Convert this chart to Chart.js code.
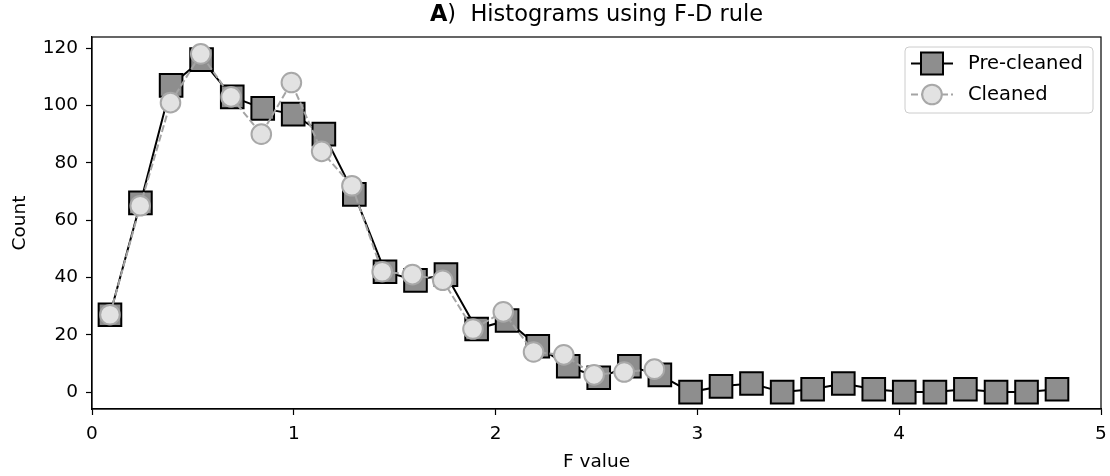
<!DOCTYPE html>
<html><head><meta charset="utf-8">
<script src="https://cdn.jsdelivr.net/npm/chart.js@4.4.1/dist/chart.umd.min.js"></script>
<style>html,body{margin:0;padding:0;background:#fff}#wrap{width:1110px;height:476px}</style>
</head><body><div id="wrap"><canvas id="c" width="1110" height="476"></canvas></div>
<script>
// ---- data ----
const seriesNames = ['Pre-cleaned', 'Cleaned'];
const preX = [0.089, 0.240, 0.392, 0.543, 0.695, 0.846, 0.997, 1.149, 1.300, 1.452, 1.603, 1.754, 1.906, 2.057, 2.209, 2.360,
              2.511, 2.663, 2.814, 2.966, 3.117, 3.268, 3.420, 3.571, 3.723, 3.874, 4.025, 4.177, 4.328, 4.480, 4.631, 4.782];
const preY = [27, 66, 107, 116, 103, 99, 97, 90, 69, 42, 39, 41, 22, 25, 16, 9,
              5, 9, 6, 0, 2, 3, 0, 1, 3, 1, 0, 0, 1, 0, 0, 1];
const cleanX = [0.089, 0.239, 0.389, 0.539, 0.689, 0.839, 0.988, 1.138, 1.288, 1.438, 1.588, 1.738, 1.888, 2.038, 2.188,
                2.338, 2.488, 2.637, 2.787];
const cleanY = [27, 65, 101, 118, 103, 90, 108, 84, 72, 42, 41, 39, 22, 28, 14, 13, 6, 7, 8];
const xTicks = [0, 1, 2, 3, 4, 5];
const yTicks = [0, 20, 40, 60, 80, 100, 120];
const titleBold = 'A';
const titleRest = ')  Histograms using F-D rule';
const xTitle = 'F value';
const yTitle = 'Count';

const FONT = "'DejaVu Sans', 'Liberation Sans', sans-serif";
const PRE = {line: '#000000', fill: '#8e8e8e', edge: '#000000'};
const CLN = {line: '#a4a4a4', fill: '#e2e2e2', edge: '#a8a8a8'};

function drawSquare(ctx, x, y, side) {
  ctx.save();
  ctx.fillStyle = PRE.fill; ctx.strokeStyle = PRE.edge; ctx.lineWidth = 2;
  ctx.beginPath(); ctx.rect(x - side / 2, y - side / 2, side, side); ctx.fill(); ctx.stroke();
  ctx.restore();
}
function drawCircle(ctx, x, y, r) {
  ctx.save();
  ctx.fillStyle = CLN.fill; ctx.strokeStyle = CLN.edge; ctx.lineWidth = 2;
  ctx.beginPath(); ctx.arc(x, y, r, 0, Math.PI * 2); ctx.fill(); ctx.stroke();
  ctx.restore();
}

const decor = {
  id: 'decor',
  afterDraw(chart) {
    const ctx = chart.ctx, a = chart.chartArea;
    // frame
    ctx.save();
    ctx.strokeStyle = '#000'; ctx.lineWidth = 1.2;
    ctx.strokeRect(a.left, a.top, a.right - a.left, a.bottom - a.top);
    ctx.restore();
    // title
    ctx.save();
    ctx.fillStyle = '#000'; ctx.textBaseline = 'middle';
    const bFont = 'bold 22.5px ' + FONT, nFont = '22.5px ' + FONT;
    ctx.font = bFont; const wb = ctx.measureText(titleBold).width;
    ctx.font = nFont; const wn = ctx.measureText(titleRest).width;
    const cx = (a.left + a.right) / 2;
    let x0 = cx - (wb + wn) / 2;
    ctx.textAlign = 'left';
    ctx.font = bFont; ctx.fillText(titleBold, x0, 15);
    ctx.font = nFont; ctx.fillText(titleRest, x0 + wb, 15);
    ctx.restore();
    // legend
    ctx.save();
    const bx = 905, by = 47, bw = 188, bh = 66, rr = 4;
    ctx.fillStyle = 'rgba(255,255,255,0.8)'; ctx.strokeStyle = '#cccccc'; ctx.lineWidth = 1;
    ctx.beginPath();
    ctx.moveTo(bx + rr, by); ctx.lineTo(bx + bw - rr, by); ctx.arcTo(bx + bw, by, bx + bw, by + rr, rr);
    ctx.lineTo(bx + bw, by + bh - rr); ctx.arcTo(bx + bw, by + bh, bx + bw - rr, by + bh, rr);
    ctx.lineTo(bx + rr, by + bh); ctx.arcTo(bx, by + bh, bx, by + bh - rr, rr);
    ctx.lineTo(bx, by + rr); ctx.arcTo(bx, by, bx + rr, by, rr); ctx.closePath();
    ctx.fill(); ctx.stroke();
    const rows = [63.5, 94.5];
    // row 1
    ctx.strokeStyle = PRE.line; ctx.lineWidth = 2; ctx.setLineDash([]);
    ctx.beginPath(); ctx.moveTo(911, rows[0]); ctx.lineTo(953, rows[0]); ctx.stroke();
    drawSquare(ctx, 932, rows[0], 22);
    // row 2
    ctx.strokeStyle = CLN.line; ctx.lineWidth = 2; ctx.setLineDash([7, 3]);
    ctx.beginPath(); ctx.moveTo(911, rows[1]); ctx.lineTo(953, rows[1]); ctx.stroke();
    ctx.setLineDash([]);
    drawCircle(ctx, 932, rows[1], 9.8);
    ctx.fillStyle = '#000'; ctx.font = '19.5px ' + FONT; ctx.textBaseline = 'middle'; ctx.textAlign = 'left';
    ctx.fillText(seriesNames[0], 968, rows[0]);
    ctx.fillText(seriesNames[1], 968, rows[1]);
    ctx.restore();
  }
};

const tickFont = {family: FONT, size: 18.5};
new Chart(document.getElementById('c'), {
  type: 'scatter',
  data: {
    datasets: [
      {
        label: seriesNames[0],
        data: preX.map((x, i) => ({x: x, y: preY[i]})),
        showLine: true, tension: 0,
        borderColor: PRE.line, borderWidth: 2,
        pointStyle: 'rect', pointRadius: 16, pointHoverRadius: 16,
        pointBackgroundColor: PRE.fill, pointBorderColor: PRE.edge, pointBorderWidth: 2,
        order: 2, clip: false
      },
      {
        label: seriesNames[1],
        data: cleanX.map((x, i) => ({x: x, y: cleanY[i]})),
        showLine: true, tension: 0,
        borderColor: CLN.line, borderWidth: 2, borderDash: [7, 3],
        pointStyle: 'circle', pointRadius: 9.8, pointHoverRadius: 9.8,
        pointBackgroundColor: CLN.fill, pointBorderColor: CLN.edge, pointBorderWidth: 2,
        order: 1, clip: false
      }
    ]
  },
  options: {
    responsive: false, animation: false, devicePixelRatio: 1,
    layout: {autoPadding: false, padding: {top: 37, right: 9, left: 0, bottom: 0}},
    plugins: {legend: {display: false}, tooltip: {enabled: false}, title: {display: false}},
    scales: {
      x: {
        type: 'linear', min: 0, max: 5,
        afterBuildTicks: s => { s.ticks = xTicks.map(v => ({value: v})); },
        afterFit: s => { s.height = 67; s.paddingRight = 0; s.paddingLeft = 0; },
        grid: {drawOnChartArea: false, drawTicks: true, tickLength: 6, tickColor: '#000', tickWidth: 1.2},
        border: {display: true, color: '#000', width: 1.2},
        ticks: {color: '#000', font: tickFont, padding: 8, maxRotation: 0, autoSkip: false},
        title: {display: true, text: xTitle, color: '#000', font: tickFont, padding: {top: 0, bottom: 3}}
      },
      y: {
        type: 'linear', min: -5.9, max: 123.9,
        afterBuildTicks: s => { s.ticks = yTicks.map(v => ({value: v})); },
        afterFit: s => { s.width = 92; },
        grid: {drawOnChartArea: false, drawTicks: true, tickLength: 6, tickColor: '#000', tickWidth: 1.2},
        border: {display: true, color: '#000', width: 1.2},
        ticks: {color: '#000', font: tickFont, padding: 8, autoSkip: false},
        title: {display: true, text: yTitle, color: '#000', font: tickFont, padding: {top: 9, bottom: 0}}
      }
    }
  },
  plugins: [decor]
});
</script>
</body></html>
